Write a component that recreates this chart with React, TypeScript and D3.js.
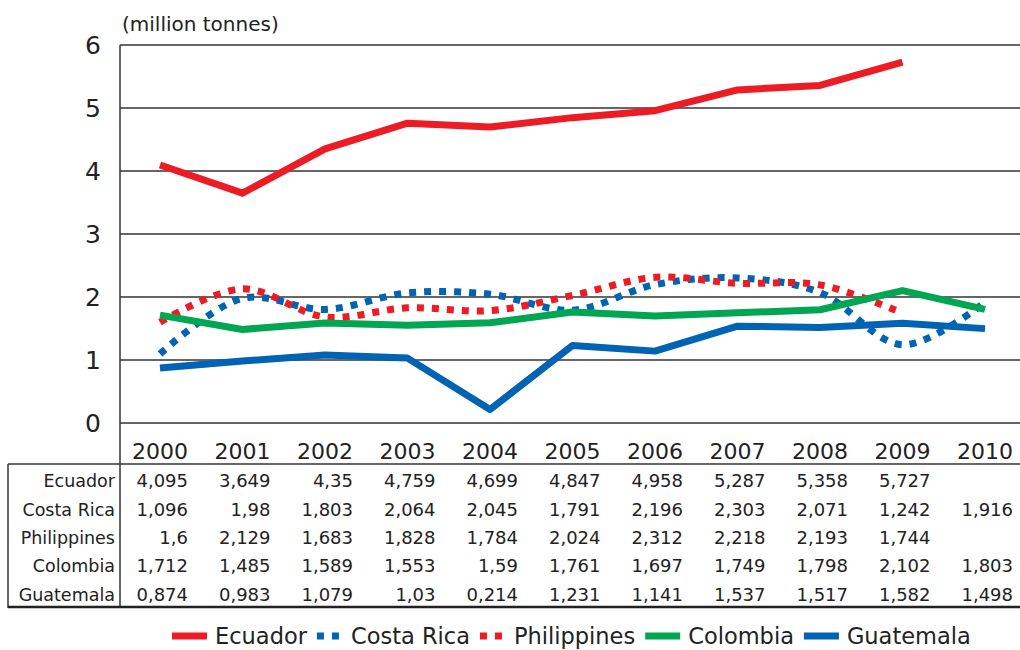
import { useEffect, useRef } from 'react'
import * as d3 from 'd3'

const years = ['2000', '2001', '2002', '2003', '2004', '2005', '2006', '2007', '2008', '2009', '2010']
const ecuador = [4.095, 3.649, 4.35, 4.759, 4.699, 4.847, 4.958, 5.287, 5.358, 5.727, null]
const costaRica = [1.096, 1.98, 1.803, 2.064, 2.045, 1.791, 2.196, 2.303, 2.071, 1.242, 1.916]
const philippines = [1.6, 2.129, 1.683, 1.828, 1.784, 2.024, 2.312, 2.218, 2.193, 1.744, null]
const colombia = [1.712, 1.485, 1.589, 1.553, 1.59, 1.761, 1.697, 1.749, 1.798, 2.102, 1.803]
const guatemala = [0.874, 0.983, 1.079, 1.03, 0.214, 1.231, 1.141, 1.537, 1.517, 1.582, 1.498]
const yTicks = [0, 1, 2, 3, 4, 5, 6]

type Series = { name: string; values: (number | null)[]; color: string; dotted: boolean }

const series: Series[] = [
  { name: 'Ecuador', values: ecuador, color: '#ed1c24', dotted: false },
  { name: 'Costa Rica', values: costaRica, color: '#0063b4', dotted: true },
  { name: 'Philippines', values: philippines, color: '#ed1c24', dotted: true },
  { name: 'Colombia', values: colombia, color: '#00a651', dotted: false },
  { name: 'Guatemala', values: guatemala, color: '#0063b4', dotted: false },
]

const fmt = (v: number | null) => (v == null ? '' : String(v).replace('.', ','))

export default function App() {
  const ref = useRef<SVGSVGElement>(null)

  useEffect(() => {
    const svg = d3.select(ref.current)
    svg.selectAll('*').remove()

    const font = 'DejaVu Sans, sans-serif'
    const left = 120
    const right = 1020
    const x = d3.scalePoint<string>().domain(years).range([160, 985])
    const y = d3.scaleLinear().domain([0, 6]).range([423, 45])

    // grid lines
    svg
      .selectAll('line.grid')
      .data(yTicks)
      .enter()
      .append('line')
      .attr('x1', left)
      .attr('x2', right)
      .attr('y1', (d) => y(d))
      .attr('y2', (d) => y(d))
      .attr('stroke', '#333')
      .attr('stroke-width', 1.5)

    // y labels
    svg
      .selectAll('text.ylab')
      .data(yTicks)
      .enter()
      .append('text')
      .attr('x', 101)
      .attr('y', (d) => y(d))
      .attr('dy', '0.36em')
      .attr('text-anchor', 'end')
      .style('font-family', font)
      .style('font-size', '25px')
      .style('fill', '#222')
      .text((d) => d)

    svg
      .append('text')
      .attr('x', 122)
      .attr('y', 31)
      .style('font-family', font)
      .style('font-size', '20px')
      .style('fill', '#222')
      .text('(million tonnes)')

    // series lines
    series.forEach((s) => {
      const line = d3
        .line<number | null>()
        .defined((d) => d != null)
        .x((_, i) => x(years[i]) as number)
        .y((d) => y(d as number))
        .curve(s.dotted ? d3.curveCatmullRom : d3.curveLinear)

      svg
        .append('path')
        .attr('d', line(s.values))
        .attr('fill', 'none')
        .attr('stroke', s.color)
        .attr('stroke-width', 7)
        .attr('stroke-dasharray', s.dotted ? '7,8' : null)
        .attr('stroke-linejoin', 'round')
    })

    // table
    const rowY0 = 481
    const rowStep = 28.3

    svg
      .append('line')
      .attr('x1', left)
      .attr('x2', left)
      .attr('y1', y(6))
      .attr('y2', 608)
      .attr('stroke', '#333')
      .attr('stroke-width', 1.5)
    svg
      .append('line')
      .attr('x1', 8)
      .attr('x2', right)
      .attr('y1', 464)
      .attr('y2', 464)
      .attr('stroke', '#333')
      .attr('stroke-width', 1.5)
    svg
      .append('line')
      .attr('x1', 8)
      .attr('x2', 8)
      .attr('y1', 464)
      .attr('y2', 608)
      .attr('stroke', '#333')
      .attr('stroke-width', 1.5)
    svg
      .append('line')
      .attr('x1', 8)
      .attr('x2', right)
      .attr('y1', 607)
      .attr('y2', 607)
      .attr('stroke', '#222')
      .attr('stroke-width', 2.5)

    svg
      .selectAll('text.year')
      .data(years)
      .enter()
      .append('text')
      .attr('x', (d) => x(d) as number)
      .attr('y', 459)
      .attr('text-anchor', 'middle')
      .style('font-family', font)
      .style('font-size', '22px')
      .style('fill', '#222')
      .text((d) => d)

    series.forEach((s, r) => {
      const ry = rowY0 + r * rowStep
      svg
        .append('text')
        .attr('x', 115)
        .attr('y', ry)
        .attr('dy', '0.36em')
        .attr('text-anchor', 'end')
        .style('font-family', font)
        .style('font-size', '17.5px')
        .style('fill', '#222')
        .text(s.name)

      svg
        .selectAll('text.v' + r)
        .data(s.values)
        .enter()
        .append('text')
        .attr('x', (_, i) => (x(years[i]) as number) + 28)
        .attr('y', ry)
        .attr('dy', '0.36em')
        .attr('text-anchor', 'end')
        .style('font-family', font)
        .style('font-size', '18px')
        .style('fill', '#222')
        .text((d) => fmt(d))
    })

    // legend
    let lx = 172
    const ly = 636
    series.forEach((s) => {
      const sw = s.dotted ? 26 : 35
      svg
        .append('line')
        .attr('x1', lx)
        .attr('x2', lx + sw)
        .attr('y1', ly)
        .attr('y2', ly)
        .attr('stroke', s.color)
        .attr('stroke-width', 7)
        .attr('stroke-dasharray', s.dotted ? '7,8' : null)
      const t = svg
        .append('text')
        .attr('x', lx + sw + 8)
        .attr('y', ly)
        .attr('dy', '0.36em')
        .style('font-family', font)
        .style('font-size', '22.5px')
        .style('fill', '#222')
        .text(s.name)
      const w = (t.node() as SVGTextElement).getComputedTextLength()
      lx += sw + 8 + w + 10
    })
  }, [])

  return (
    <svg
      ref={ref}
      width={1020}
      height={650}
      style={{ position: 'absolute', left: 0, top: 0, background: '#fff' }}
    />
  )
}
